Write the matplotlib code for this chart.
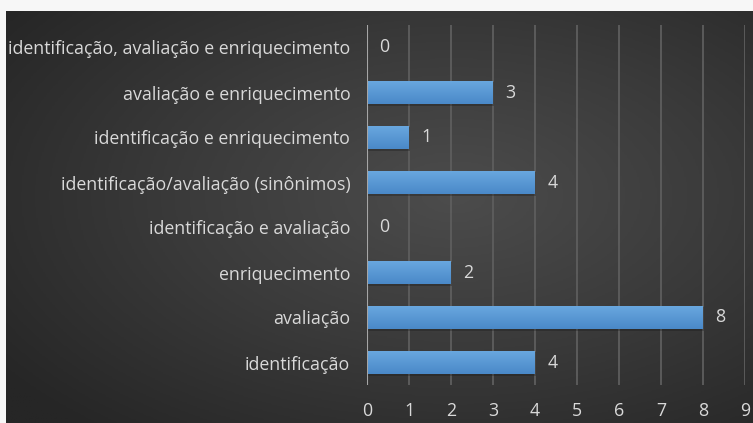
import numpy as np
import matplotlib.pyplot as plt
from matplotlib.colors import LinearSegmentedColormap

plt.rcParams['font.family'] = ['Open Sans', 'DejaVu Sans']

# dados
categorias = ['identificação', 'avaliação', 'enriquecimento',
              'identificação e avaliação', 'identificação/avaliação (sinônimos)',
              'identificação e enriquecimento', 'avaliação e enriquecimento',
              'identificação, avaliação e enriquecimento']
valores = [4, 8, 2, 0, 4, 1, 3, 0]
marcas_x = list(range(10))

W, H = 753, 423
fig = plt.figure(figsize=(W / 100, H / 100), dpi=100, facecolor='#f7f7f7')

# fundo escuro com gradiente radial
fundo = fig.add_axes([6 / W, 0, 1 - 6 / W, 1 - 11 / H])
fundo.set_axis_off()
yy, xx = np.mgrid[0:1:300j, 0:1:500j]
r = np.sqrt(((xx - 0.6) / 0.75) ** 2 + ((yy - 0.45) / 0.75) ** 2)
cmap_fundo = LinearSegmentedColormap.from_list('f', ['#4c4c4c', '#3a3a3a', '#262626'])
fundo.imshow(np.clip(r, 0, 1), cmap=cmap_fundo, aspect='auto', extent=[0, 1, 0, 1],
             vmin=0, vmax=1)

ax = fig.add_axes([367 / W, 1 - 385 / H, 378 / W, 360 / H])
ax.patch.set_alpha(0)
ypos = np.arange(len(categorias))

# sombra das barras
ax.barh(ypos - 0.04, valores, height=0.53, left=0.02, color='#151515', alpha=0.3,
        zorder=2, linewidth=0)
barras = ax.barh(ypos, valores, height=0.53, color='#5b9bd5', zorder=3, linewidth=0)

# gradiente vertical em cada barra
cmap_barra = LinearSegmentedColormap.from_list('b', ['#4a89c8', '#6aa8e0'])
grad = np.linspace(0, 1, 50).reshape(-1, 1)
for b in barras:
    if b.get_width() <= 0:
        continue
    x0, y0 = b.get_x(), b.get_y()
    im = ax.imshow(grad, cmap=cmap_barra, aspect='auto', origin='lower',
                   extent=[x0, x0 + b.get_width(), y0, y0 + b.get_height()], zorder=4)
    im.set_clip_path(b)

for y, v in zip(ypos, valores):
    ax.annotate(str(v), (v, y), xytext=(9, 0), textcoords='offset points',
                ha='left', va='center', color='#d9d9d9', fontsize=12.8, zorder=5)

ax.set_xlim(0, 9)
ax.set_ylim(-0.5, len(categorias) - 0.5)
ax.set_xticks(marcas_x)
ax.set_yticks(ypos)
ax.set_yticklabels(categorias)
ax.tick_params(axis='both', length=0, colors='#d9d9d9', labelsize=12.8)
ax.tick_params(axis='y', pad=12)
ax.tick_params(axis='x', pad=12)
for s in ax.spines.values():
    s.set_visible(False)

for x in marcas_x[1:]:
    ax.axvline(x, color='#5e5e5e', linewidth=1.3, zorder=1)
ax.axvline(0, color='#a6a6a6', linewidth=1.5, zorder=6)

fig.savefig('out.png', dpi=100, facecolor=fig.get_facecolor())
